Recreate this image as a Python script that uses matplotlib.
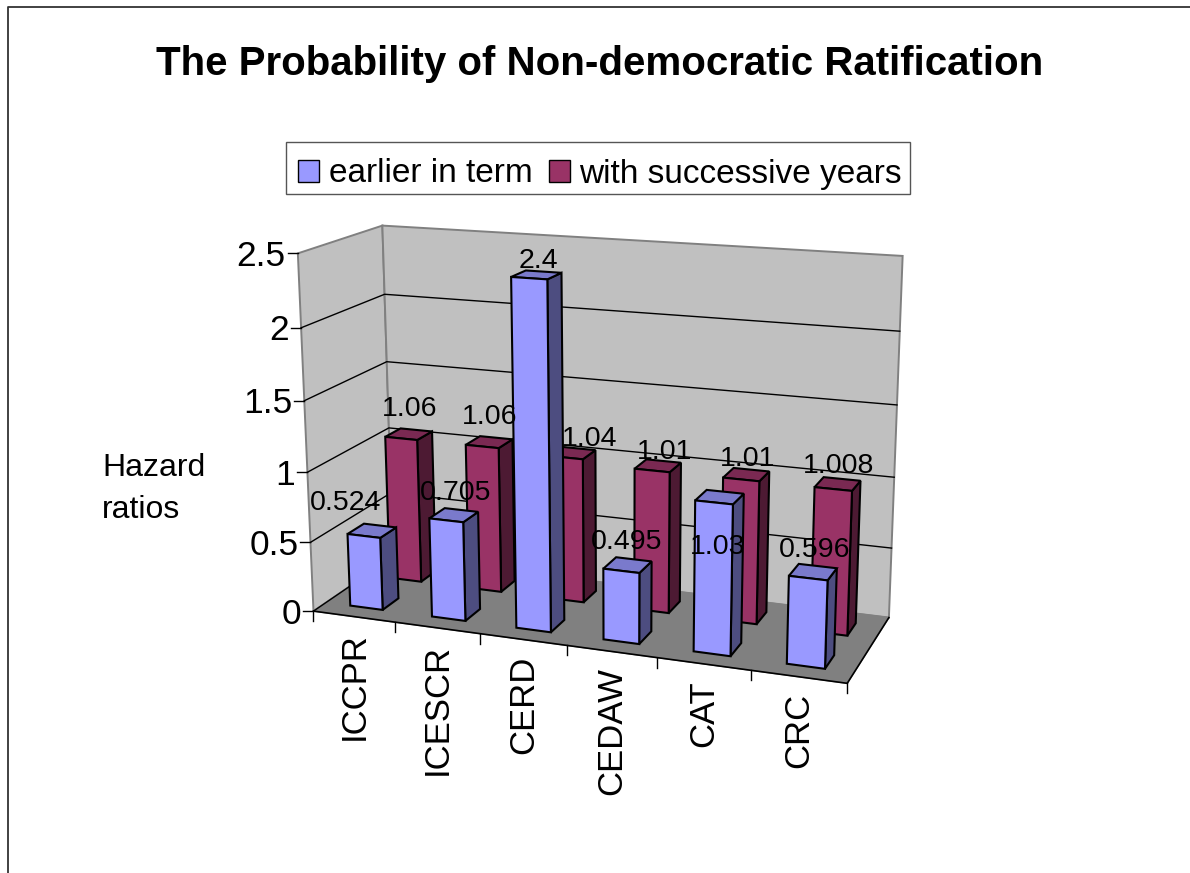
import numpy as np
import matplotlib
matplotlib.use("Agg")
import matplotlib.pyplot as plt
from matplotlib.patches import Polygon, Patch, Rectangle

plt.rcParams['font.family'] = ['Liberation Sans', 'DejaVu Sans']

# ---- data ----
categories = ["ICCPR", "ICESCR", "CERD", "CEDAW", "CAT", "CRC"]
earlier_in_term = [0.524, 0.705, 2.4, 0.495, 1.03, 0.596]
successive_years = [1.06, 1.06, 1.04, 1.01, 1.01, 1.008]
earlier_labels = ["0.524", "0.705", "2.4", "0.495", "1.03", "0.596"]
successive_labels = ["1.06", "1.06", "1.04", "1.01", "1.01", "1.008"]
value_ticks = [0, 0.5, 1, 1.5, 2, 2.5]
value_tick_labels = ["0", "0.5", "1", "1.5", "2", "2.5"]
title = "The Probability of Non-democratic Ratification"
series_names = ["earlier in term", "with successive years"]

# ---- styles ----
BLUE = ("#9999FF", "#7A7ACC", "#4D4D80")
RED = ("#993366", "#7A2952", "#4D1A33")
WALL = "#C0C0C0"
FLOOR = "#808080"
EDGE = "#808080"

# ---- perspective projection of the 3-D box, fitted to its corners ----
# (category, depth, value) -> pixel
anchors = [
    ((0, 0, 0), (313, 612)), ((6, 0, 0), (847, 683)),
    ((0, 1, 0), (395, 556)), ((6, 1, 0), (889, 618)),
    ((0, 1, 2.5), (382, 226)), ((6, 1, 2.5), (903, 256)),
    ((0, 0, 2.5), (299, 253)), ((0, 0, 1), (307, 472)),
    ((6, 1, 1), (894, 477)), ((0, 1, 1), (387, 428)),
]
A, b = [], []
for (X, Y, Z), (u, v) in anchors:
    A.append([X, Y, Z, 1, 0, 0, 0, 0, -u * X, -u * Y, -u * Z])
    b.append(u)
    A.append([0, 0, 0, 0, X, Y, Z, 1, -v * X, -v * Y, -v * Z])
    b.append(v)
h = np.linalg.lstsq(np.array(A, float), np.array(b, float), rcond=None)[0]
M = np.append(h, 1).reshape(3, 4)


def P(x, d, z):
    q = M @ np.array([x, d, z, 1.0])
    return q[0] / q[2], q[1] / q[2]


fig = plt.figure(figsize=(11.9, 8.73), dpi=100)
ax = fig.add_axes([0, 0, 1, 1])
ax.set_xlim(0, 1190)
ax.set_ylim(873, 0)
ax.axis("off")

# slide border running off the right and bottom edges
ax.plot([7.5, 7.5, 1190], [873, 6.5, 6.5], color="#333333", lw=1.3, zorder=1)


def quad(pts, face, edge="black", lw=1.5, z=2):
    ax.add_patch(Polygon([P(*p) for p in pts], closed=True, facecolor=face,
                         edgecolor=edge, linewidth=lw, joinstyle="miter", zorder=z))


N = len(categories)
zmax = value_ticks[-1]
quad([(0, 0, 0), (0, 1, 0), (0, 1, zmax), (0, 0, zmax)], WALL, EDGE, 1.4)
quad([(0, 1, 0), (N, 1, 0), (N, 1, zmax), (0, 1, zmax)], WALL, EDGE, 1.4)
quad([(0, 0, 0), (N, 0, 0), (N, 1, 0), (0, 1, 0)], FLOOR, FLOOR, 1.0)

# gridlines, value ticks and labels
for val, lab in zip(value_ticks, value_tick_labels):
    p0, p1, p2 = P(0, 0, val), P(0, 1, val), P(N, 1, val)
    if val not in (0, zmax):
        ax.plot(*zip(p0, p1, p2), color="black", lw=1.0, zorder=2.5)
    ax.plot([p0[0] - 10, p0[0]], [p0[1], p0[1]], color="black", lw=1.0, zorder=2.5)
    ax.text(p0[0] - 12, p0[1] + 3, lab, ha="right", va="center", fontsize=25.5, zorder=9)

# floor front edge and category ticks / labels
ax.plot(*zip(P(0, 0, 0), P(N, 0, 0)), color="black", lw=1.2, zorder=2.6)
ax.plot(*zip(P(N, 0, 0), P(N, 1, 0)), color="black", lw=1.2, zorder=2.6)
ax.plot(*zip(P(0, 0, 0), P(0, 1, 0)), color="black", lw=1.0, zorder=2.6)
for k in range(N + 1):
    px, py = P(k, 0, 0)
    ax.plot([px, px], [py, py + 10], color="black", lw=1.0, zorder=2.6)
for k, name in enumerate(categories):
    px, py = P(k + 0.5, 0, 0)
    ax.text(px + 0.5, py + 16, name, rotation=90, ha="center", va="top", fontsize=25, zorder=9)

BAR_X = (0.30, 0.70)
ROWS = [(0.15, 0.35), (0.65, 0.85)]


def bar(k, row, val, colors, z):
    x0, x1 = k + BAR_X[0], k + BAR_X[1]
    d0, d1 = ROWS[row]
    quad([(x1, d0, 0), (x1, d1, 0), (x1, d1, val), (x1, d0, val)], colors[2], z=z)
    quad([(x0, d0, val), (x1, d0, val), (x1, d1, val), (x0, d1, val)], colors[1], z=z)
    quad([(x0, d0, 0), (x1, d0, 0), (x1, d0, val), (x0, d0, val)], colors[0], z=z)


for k, val in enumerate(successive_years):
    bar(k, 1, val, RED, 3 + k * 0.01)
for k, val in enumerate(earlier_in_term):
    bar(k, 0, val, BLUE, 4 + k * 0.01)

# data labels (pixel centres)
earlier_label_xy = [(346, 503), (456, 493), (538, 261), (627, 542), (718, 547), (815, 550)]
successive_label_xy = [(410, 409), (490, 417), (590, 439), (665, 452), (748, 459), (839, 466)]
for txt, (x, y) in zip(earlier_labels + successive_labels, earlier_label_xy + successive_label_xy):
    ax.text(x, y, txt, ha="center", va="center", fontsize=20.5, zorder=8)

ax.text(600, 64, title, ha="center", va="center", fontsize=29, fontweight="bold", zorder=9)
ax.text(102, 468, "Hazard", ha="left", va="center", fontsize=23, zorder=9)
ax.text(102, 510, "ratios", ha="left", va="center", fontsize=23, zorder=9)

# legend: frame drawn at the reference box, entries from a real legend inside it
ax.add_patch(Rectangle((286, 142), 624, 52, facecolor="white", edgecolor="#555555",
                       linewidth=1.0, zorder=10))
handles = [Patch(facecolor=BLUE[0], edgecolor="black", linewidth=1.0),
           Patch(facecolor=RED[0], edgecolor="black", linewidth=1.0)]
leg = ax.legend(handles, series_names, ncol=2, loc="center",
                bbox_to_anchor=(600, 174), bbox_transform=ax.transData,
                fontsize=24, frameon=False, handlelength=0.63, handleheight=0.63,
                handletextpad=0.285, columnspacing=0.48, borderpad=0, borderaxespad=0)
leg.set_zorder(11)

fig.savefig("out.png", dpi=100)
